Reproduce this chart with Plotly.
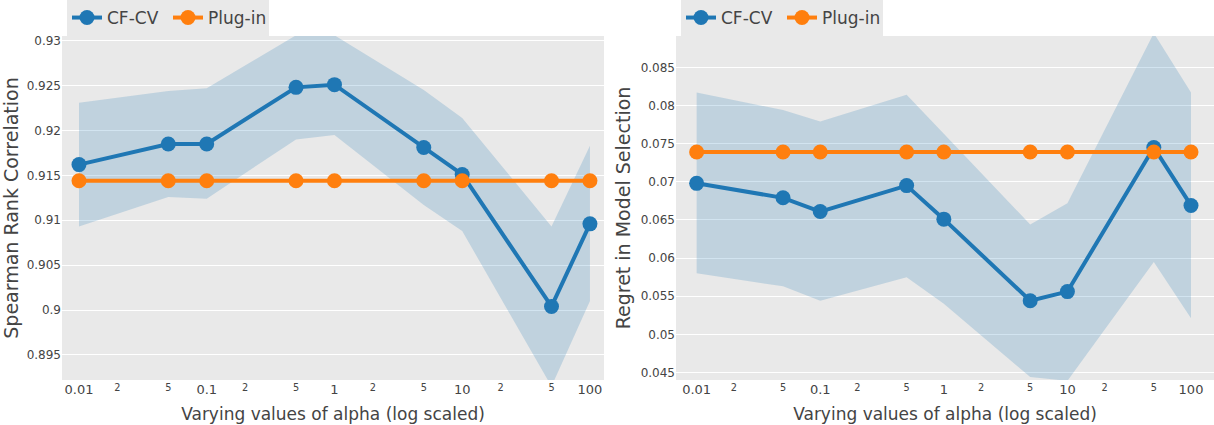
import plotly.graph_objects as go

alpha = [0.01, 0.05, 0.1, 0.5, 1, 5, 10, 50, 100]

# Left panel: Spearman rank correlation
spearman_cfcv = [0.9162, 0.9185, 0.9185, 0.9248, 0.9251, 0.9181, 0.9151, 0.9004, 0.9096]
spearman_upper = [0.9231, 0.9244, 0.9247, 0.9306, 0.9306, 0.9245, 0.9214, 0.9093, 0.9183]
spearman_lower = [0.9093, 0.9126, 0.9124, 0.9190, 0.9195, 0.9117, 0.9088, 0.8915, 0.9010]
spearman_plugin = [0.9144] * 9

# Right panel: regret in model selection
regret_cfcv = [0.0698, 0.0679, 0.0661, 0.0695, 0.0651, 0.0544, 0.0556, 0.0745, 0.0669]
regret_upper = [0.0817, 0.0794, 0.0779, 0.0814, 0.0763, 0.0644, 0.0672, 0.0895, 0.0817]
regret_lower = [0.0580, 0.0563, 0.0544, 0.0575, 0.0540, 0.0444, 0.0439, 0.0595, 0.0521]
regret_plugin = [0.0739] * 9

BLUE = "#1f77b4"
ORANGE = "#ff7f0e"
BAND = "rgba(31,119,180,0.2)"
BG = "#e9e9e9"
FONT = "DejaVu Sans"

fig = go.Figure()


def add_panel(xa, ya, legend, cf, up, lo, pl):
    fig.add_trace(go.Scatter(x=alpha, y=up, mode="lines", line=dict(width=0),
                             showlegend=False, hoverinfo="skip", xaxis=xa, yaxis=ya))
    fig.add_trace(go.Scatter(x=alpha, y=lo, mode="lines", line=dict(width=0),
                             fill="tonexty", fillcolor=BAND, showlegend=False,
                             hoverinfo="skip", xaxis=xa, yaxis=ya))
    fig.add_trace(go.Scatter(x=alpha, y=cf, mode="lines+markers", name="CF-CV",
                             line=dict(color=BLUE, width=4), marker=dict(size=15, color=BLUE),
                             xaxis=xa, yaxis=ya, legend=legend))
    fig.add_trace(go.Scatter(x=alpha, y=pl, mode="lines+markers", name="Plug-in",
                             line=dict(color=ORANGE, width=4), marker=dict(size=15, color=ORANGE),
                             xaxis=xa, yaxis=ya, legend=legend))


add_panel("x", "y", "legend", spearman_cfcv, spearman_upper, spearman_lower, spearman_plugin)
add_panel("x2", "y2", "legend2", regret_cfcv, regret_upper, regret_lower, regret_plugin)

xcommon = dict(type="log", dtick="D2", showgrid=False, zeroline=False,
               tickfont=dict(size=13, color="#444", family=FONT),
               title=dict(text="Varying values of alpha (log scaled)",
                          font=dict(size=17, color="#444", family=FONT), standoff=12),
               ticks="", automargin=False)
ycommon = dict(showgrid=True, gridcolor="white", gridwidth=1, zeroline=False,
               tickfont=dict(size=12, color="#444", family=FONT), ticks="", automargin=True)

legend_common = dict(orientation="h", xanchor="left", y=1, yanchor="bottom",
                     bgcolor=BG, font=dict(size=17, family=FONT, color="#444"),
                     itemwidth=30, tracegroupgap=0, traceorder="normal",
                     entrywidth=56, entrywidthmode="pixels")

fig.update_layout(
    width=1214, height=425,
    margin=dict(l=0, r=0, t=33, b=45),
    paper_bgcolor="white",
    plot_bgcolor=BG,
    font=dict(family=FONT, color="#444"),
    xaxis=dict(domain=[62 / 1214, 604 / 1214], range=[-2.133, 2.11], anchor="y", **xcommon),
    xaxis2=dict(domain=[676 / 1214, 1.0], range=[-2.167, 2.186], anchor="y2", **xcommon),
    yaxis=dict(domain=[0, 1], range=[0.89221, 0.93052], anchor="x", dtick=0.005,
               title=dict(text="Spearman Rank Correlation",
                          font=dict(size=19, color="#444", family=FONT), standoff=4),
               **ycommon),
    yaxis2=dict(domain=[0, 1], range=[0.04401, 0.08912], anchor="x2", dtick=0.005,
                title=dict(text="Regret in Model Selection",
                           font=dict(size=19, color="#444", family=FONT), standoff=4),
                **ycommon),
    legend=dict(x=67 / 1214, **legend_common),
    legend2=dict(x=681 / 1214, **legend_common),
)

fig.write_html("out.html", post_script="document.body.style.margin='0';",
               config={"displayModeBar": False})
